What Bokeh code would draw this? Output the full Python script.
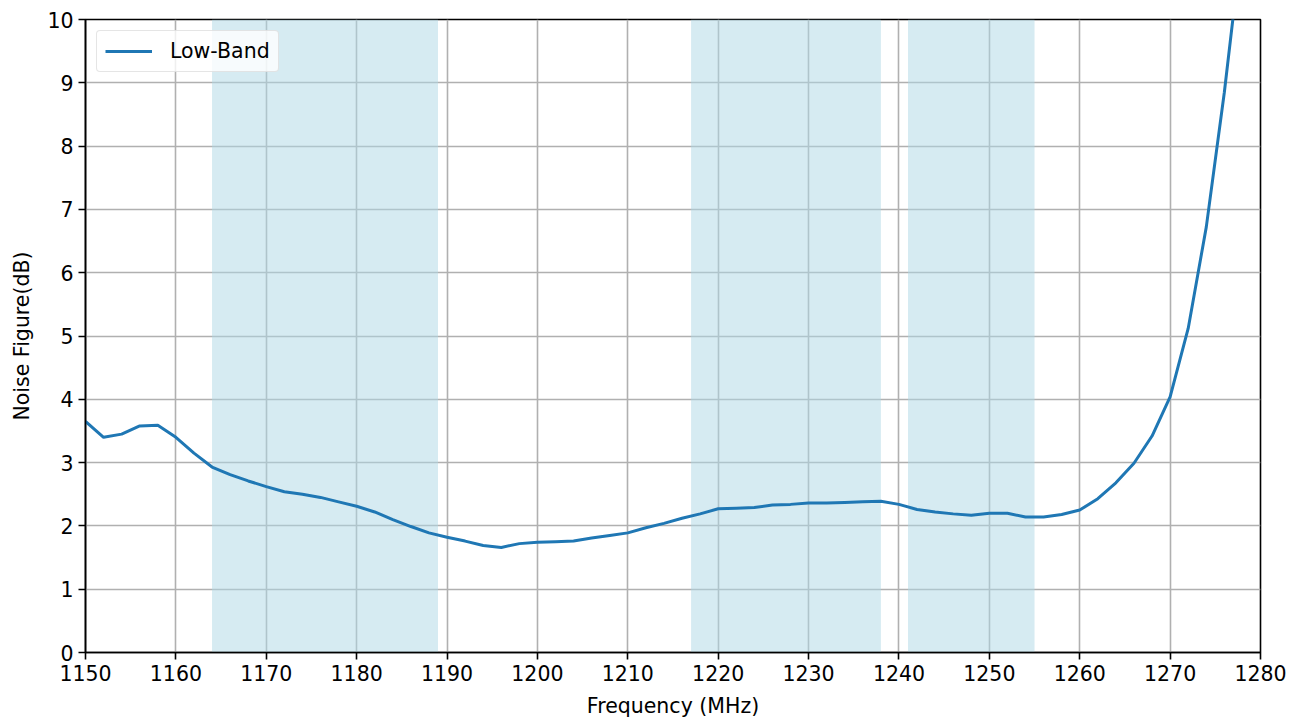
from bokeh.plotting import figure
from bokeh.models import BoxAnnotation, Range1d, FixedTicker, Legend, LegendItem
from bokeh.embed import file_html
from bokeh.resources import INLINE

freq = [1150, 1152, 1154, 1156, 1158, 1160, 1162, 1164, 1166, 1168, 1170, 1172, 1174, 1176,
        1178, 1180, 1182, 1184, 1186, 1188, 1190, 1192, 1194, 1196, 1198, 1200, 1202, 1204,
        1206, 1208, 1210, 1212, 1214, 1216, 1218, 1220, 1222, 1224, 1226, 1228, 1230, 1232,
        1234, 1236, 1238, 1240, 1242, 1244, 1246, 1248, 1250, 1252, 1254, 1256, 1258, 1260,
        1262, 1264, 1266, 1268, 1270, 1272, 1274, 1276, 1278]
noise_figure = [3.65, 3.40, 3.45, 3.58, 3.59, 3.40, 3.15, 2.93, 2.81, 2.71, 2.62, 2.54, 2.50, 2.45,
                2.38, 2.31, 2.22, 2.10, 1.99, 1.89, 1.82, 1.76, 1.69, 1.66, 1.72, 1.74, 1.75, 1.76,
                1.81, 1.85, 1.89, 1.97, 2.04, 2.12, 2.19, 2.27, 2.28, 2.29, 2.33, 2.34, 2.36, 2.36,
                2.37, 2.38, 2.39, 2.34, 2.26, 2.22, 2.19, 2.17, 2.20, 2.20, 2.14, 2.14, 2.18, 2.25,
                2.43, 2.68, 2.99, 3.42, 4.04, 5.12, 6.72, 8.85, 11.3]
bands = [(1164, 1189), (1217, 1238), (1241, 1255)]
x_ticks = list(range(1150, 1281, 10))
y_ticks = list(range(0, 11))
series_name = "Low-Band"

FONT = "DejaVu Sans"
FS = "20.5px"

p = figure(width=1300, height=720, output_backend="svg", toolbar_location=None,
           x_range=Range1d(1150, 1280), y_range=Range1d(0, 10),
           min_border_left=85, min_border_right=40, min_border_top=19, min_border_bottom=67)

for a, b in bands:
    p.add_layout(BoxAnnotation(left=a, right=b, fill_color="lightblue", fill_alpha=0.5,
                               line_alpha=0, level="underlay"))

r = p.line(freq, noise_figure, line_color="#1f77b4", line_width=3)

p.xaxis.ticker = FixedTicker(ticks=x_ticks)
p.yaxis.ticker = FixedTicker(ticks=y_ticks)
p.xaxis.axis_label = "Frequency (MHz)"
p.yaxis.axis_label = "Noise Figure(dB)"
for ax in (p.xaxis, p.yaxis):
    ax.axis_label_text_font = FONT
    ax.axis_label_text_font_size = FS
    ax.axis_label_text_font_style = "normal"
    ax.axis_label_text_color = "black"
    ax.major_label_text_font = FONT
    ax.major_label_text_font_size = FS
    ax.major_label_text_color = "black"
    ax.axis_line_color = "black"
    ax.axis_line_width = 1.6
    ax.major_tick_line_color = "black"
    ax.major_tick_line_width = 1.6
    ax.major_tick_out = 7
    ax.major_tick_in = 0
    ax.minor_tick_line_color = None
p.xaxis.axis_label_standoff = 10
p.yaxis.axis_label_standoff = 10
p.xaxis.major_label_standoff = 5
p.yaxis.major_label_standoff = 5

p.xgrid.grid_line_color = "#b0b0b0"
p.ygrid.grid_line_color = "#b0b0b0"
p.xgrid.grid_line_width = 1.6
p.ygrid.grid_line_width = 1.6
p.xgrid.level = "underlay"
p.ygrid.level = "underlay"
p.outline_line_color = "black"
p.outline_line_width = 1.6
p.background_fill_color = "white"
p.border_fill_color = "white"

legend = Legend(items=[LegendItem(label=series_name, renderers=[r])], location="top_left")
legend.label_text_font = FONT
legend.label_text_font_size = FS
legend.label_text_color = "black"
legend.border_line_color = "#cccccc"
legend.border_line_width = 1.2
legend.border_radius = 4
legend.background_fill_alpha = 0.8
legend.glyph_width = 47
legend.label_standoff = 18
legend.margin = 11
legend.padding = 8
p.add_layout(legend)

open("out.html", "w").write(file_html(p, INLINE))
